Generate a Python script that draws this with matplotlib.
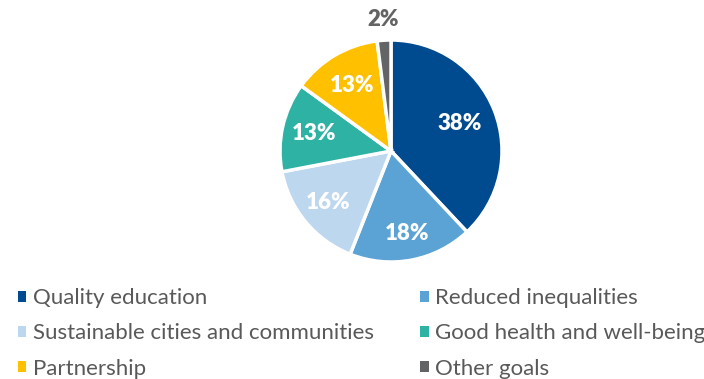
import matplotlib.pyplot as plt
from matplotlib.patches import Patch
import numpy as np

goals = ['Quality education', 'Reduced inequalities',
         'Sustainable cities and communities', 'Good health and well-being',
         'Partnership', 'Other goals']
shares = [38, 18, 16, 13, 13, 2]
colors = ['#004a8f', '#5ba2d5', '#bdd7ee', '#2db2a3', '#ffc000', '#636466']

# how far from the centre each percentage sits
label_r = [0.67, 0.76, 0.73, 0.71, 0.69, 1.19]

plt.rcParams['font.family'] = ['Lato', 'DejaVu Sans']

fig = plt.figure(figsize=(7.04, 3.79), dpi=100)
r_px = 111
cx, cy = 391, 151
ax = fig.add_axes([(cx - r_px) / 704, 1 - (cy + r_px) / 379,
                   2 * r_px / 704, 2 * r_px / 379])

wedges, _ = ax.pie(shares, colors=colors, startangle=90, counterclock=False,
                   radius=1, wedgeprops=dict(edgecolor='white', linewidth=2.5))
ax.set_xlim(-1, 1)
ax.set_ylim(-1, 1)
ax.axis('off')

for w, v, r in zip(wedges, shares, label_r):
    ang = np.deg2rad((w.theta1 + w.theta2) / 2)
    col = 'white' if r < 1 else '#636466'
    ax.text(r * np.cos(ang), r * np.sin(ang), f'{v}%', ha='center', va='center',
            color=col, fontsize=16, fontweight='heavy', clip_on=False)

# legend laid out row by row in two columns
order = [0, 2, 4, 1, 3, 5]
handles = [Patch(facecolor=colors[i], label=goals[i]) for i in order]
leg = fig.legend(handles=handles, ncol=2, loc='upper left',
                 bbox_to_anchor=(-0.0035, 0.292), frameon=False,
                 fontsize=16, handlelength=0.4, handleheight=0.4,
                 handletextpad=0.3, columnspacing=2.05, labelspacing=0.68,
                 labelcolor='#595959')

fig.savefig('out.png', dpi=100)
